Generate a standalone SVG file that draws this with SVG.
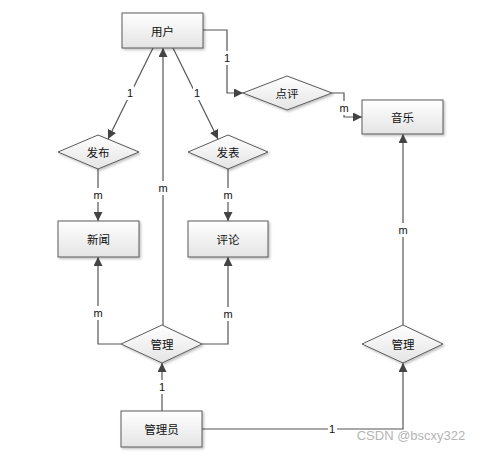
<svg xmlns="http://www.w3.org/2000/svg" width="480" height="456" viewBox="0 0 480 456">
<defs>
<linearGradient id="g" x1="0" y1="0" x2="0" y2="1">
<stop offset="0" stop-color="#ffffff"/>
<stop offset="1" stop-color="#e4e4e4"/>
</linearGradient>
<marker id="ar" viewBox="0 0 10 10" refX="10" refY="5" markerWidth="9" markerHeight="9" markerUnits="userSpaceOnUse" orient="auto">
<path d="M0,0 L10,5 L0,10 z" fill="#444"/>
</marker>
<filter id="sh" x="-10%" y="-10%" width="130%" height="140%">
<feDropShadow dx="1.5" dy="1.5" stdDeviation="1" flood-color="#000" flood-opacity="0.25"/>
</filter>
</defs>
<style>
.n{fill:url(#g);stroke:#5a5a5a;stroke-width:1;filter:url(#sh)}
.t{font-family:"Noto Sans CJK SC","Microsoft YaHei",sans-serif;font-size:11.5px;fill:#111;text-anchor:middle;dominant-baseline:central}
.c{fill:none;stroke:#555;stroke-width:1.2}
.a{marker-end:url(#ar)}
.l{font-family:"Liberation Sans",Arial,sans-serif;font-size:11px;fill:#111;text-anchor:middle;dominant-baseline:central}
.lb{fill:#fff}
</style>
<rect width="480" height="456" fill="#fff"/>
<g id="connectors">
<path class="c a" d="M203,30 H227 V93 H243"/>
<path class="c a" d="M332,93 H344 V117 H362"/>
<path class="c a" d="M153,48 L108,139"/>
<path class="c a" d="M173,48 L218,139"/>
<path class="c a" d="M163,325 V48"/>
<path class="c a" d="M98,169 V221"/>
<path class="c a" d="M228,169 V221"/>
<path class="c a" d="M121,344 H98 V257"/>
<path class="c a" d="M202,344 H228 V257"/>
<path class="c a" d="M162,411 V363"/>
<path class="c a" d="M202,429 H403 V363"/>
<path class="c a" d="M403,325 V134"/>
<rect class="lb" x="223" y="51" width="8" height="14"/><text class="l" x="227" y="58">1</text>
<rect class="lb" x="338" y="101" width="12" height="14"/><text class="l" x="344" y="108">m</text>
<rect class="lb" x="126" y="86" width="8" height="14"/><text class="l" x="130" y="93">1</text>
<rect class="lb" x="193" y="86" width="8" height="14"/><text class="l" x="197" y="93">1</text>
<rect class="lb" x="157" y="181" width="12" height="14"/><text class="l" x="163" y="188">m</text>
<rect class="lb" x="92" y="188" width="12" height="14"/><text class="l" x="98" y="195">m</text>
<rect class="lb" x="222" y="188" width="12" height="14"/><text class="l" x="228" y="195">m</text>
<rect class="lb" x="92" y="306" width="12" height="14"/><text class="l" x="98" y="313">m</text>
<rect class="lb" x="222" y="307" width="12" height="14"/><text class="l" x="228" y="314">m</text>
<rect class="lb" x="158" y="380" width="8" height="14"/><text class="l" x="162" y="387">1</text>
<rect class="lb" x="328" y="422" width="9" height="14"/><text class="l" x="332" y="429">1</text>
<rect class="lb" x="397" y="223" width="12" height="14"/><text class="l" x="403" y="230">m</text>
</g>
<g id="user"><rect class="n" x="122" y="13" width="81" height="35"/><text class="t" x="162.5" y="30.5">用户</text></g>
<g id="dianping"><polygon class="n" points="243,93 287,76 332,93 287,110"/><text class="t" x="287" y="93">点评</text></g>
<g id="music"><rect class="n" x="362" y="100" width="81" height="34"/><text class="t" x="402.5" y="117">音乐</text></g>
<g id="fabu"><polygon class="n" points="58,152 98,135 139,152 98,169"/><text class="t" x="98" y="152">发布</text></g>
<g id="fabiao"><polygon class="n" points="188,152 228,135 268,152 228,169"/><text class="t" x="228" y="152">发表</text></g>
<g id="news"><rect class="n" x="58" y="221" width="81" height="36"/><text class="t" x="98.5" y="239">新闻</text></g>
<g id="comment"><rect class="n" x="188" y="221" width="80" height="36"/><text class="t" x="228" y="239">评论</text></g>
<g id="manage1"><polygon class="n" points="121,344 162,325 202,344 162,363"/><text class="t" x="162" y="344">管理</text></g>
<g id="manage2"><polygon class="n" points="362,344 403,325 443,344 403,363"/><text class="t" x="403" y="344">管理</text></g>
<g id="admin"><rect class="n" x="121" y="411" width="81" height="36"/><text class="t" x="161.5" y="429">管理员</text></g>
<text x="411" y="440" font-family="'Liberation Sans',Arial,sans-serif" font-size="13" fill="#b4b4b4" text-anchor="middle">CSDN @bscxy322</text>
</svg>
